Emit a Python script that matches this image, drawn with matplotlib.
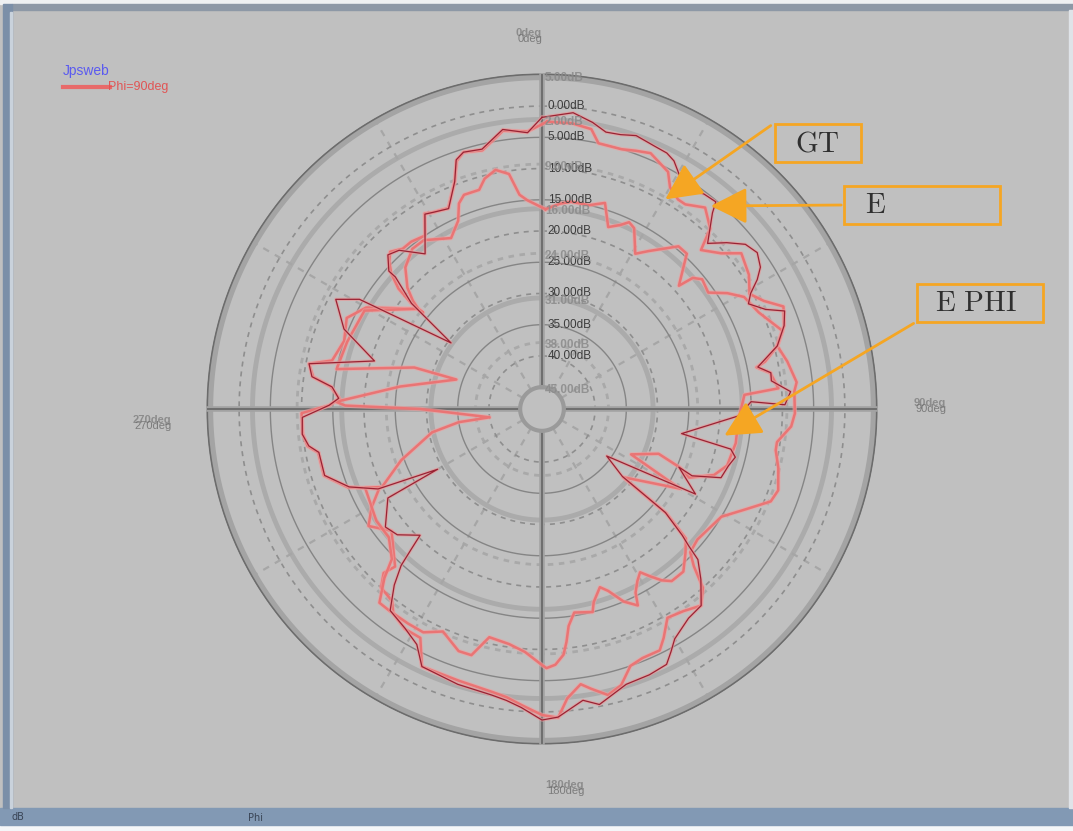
import numpy as np
import matplotlib.pyplot as plt
from matplotlib.patches import Rectangle, FancyArrowPatch

plt.rcParams['mathtext.fontset'] = 'cm'

# GT trace (outer, light red)
gt_deg = [1, 6, 10, 12, 17, 20, 23, 28, 30, 33, 35, 39, 43, 45, 49, 52, 57, 61, 64, 67, 71, 75, 79, 84, 86,
          91, 94, 98, 100, 104, 109, 112, 116, 121, 130, 134, 136, 138, 141, 145, 149, 152, 154, 158, 161,
          164, 167, 170, 172, 175, 177, 180, 184, 187, 190, 197, 205, 208, 212, 216, 218, 222, 224, 223, 231,
          236, 240, 244, 248, 253, 259, 261, 264, 269, 271, 273, 276, 278, 281, 283, 289, 295, 300, 309, 309,
          309, 310, 312, 314, 316, 319, 322, 326, 329, 331, 335, 339, 341, 343, 347, 352, 357]
gt_db = [-2.5, -2.5, -3, -5, -5, -4.5, -4, -5.5, -7.5, -8.5, -8.5, -7, -9, -12.5, -10.5, -8, -9, -10.5, -9,
         -6.5, -7.5, -9.5, -8.5, -7.5, -8, -8, -8.5, -10.5, -10.5, -9.5, -8.5, -9, -12, -15, -16, -15.5,
         -13.5, -10, -8, -9, -9.5, -7, -5.5, -5.5, -5, -2.5, -1.5, -3, -4, -2, 1, 0.5, -1, -2, -2.5, -3, -3,
         -7, -7, -8, -9.5, -10, -12, -14, -17.5, -15, -17, -19.5, -15, -12, -12, -10.5, -10, -10, -14.5, -16,
         -14.5, -11.5, -10.5, -14, -15, -14, -16, -23, -24, -21.5, -18.5, -16, -14.5, -13.5, -14.5, -14.5,
         -15, -12, -12.5, -13, -9.5, -6.5, -5.5, -6, -3.5, -4]

# E trace (inner, light red)
e_deg = [1, 5, 8, 13, 17, 20, 23, 25, 27, 31, 34, 40, 43, 45, 48, 49, 51, 55, 58, 61, 66, 72, 75, 78, 79,
         81, 85, 86, 93, 100, 107, 111, 115, 113, 111, 117, 120, 130, 130, 130, 132, 135, 139, 143, 145, 147,
         149, 151, 153, 154, 157, 160, 162, 165, 166, 171, 173, 174, 175, 177, 179, 180, 184, 188, 193, 196,
         199, 204, 208, 212, 217, 220, 223, 225, 230, 236, 246, 244, 250, 258, 261, 261, 270, 271, 272, 279,
         289, 288, 281, 289, 299, 309, 310, 312, 316, 321, 325, 332, 336, 338, 340, 344, 346, 349, 352, 354,
         356]
e_db = [-16.5, -15.5, -15, -15, -14, -17.5, -16.5, -15.5, -16, -19.5, -18, -14.5, -14.5, -16.5, -19, -16.5,
        -15.5, -16, -13.5, -11.5, -10.5, -8, -9.5, -12, -13.5, -11.5, -10.5, -16, -17, -17, -17.5, -19,
        -22.5, -24.5, -28.5, -32.5, -23, -31.5, -26, -22.5, -17.5, -16, -14, -14, -15, -16.5, -18, -17,
        -15.5, -13.5, -15, -17.5, -18.5, -16.5, -15, -15.5, -13.5, -11, -9, -7.5, -7, -7.5, -9.5, -10.5,
        -11, -7.5, -7.5, -9.5, -8, -8, -8, -8, -11.5, -14.5, -16.5, -16.5, -17.5, -20, -24.5, -30.5, -35,
        -40, -29, -17, -15.5, -25.5, -34, -27, -15, -15.5, -16, -23, -21.5, -19.5, -17, -15.5, -15.5, -17.5,
        -15.5, -13, -12, -12, -10.5, -9.5, -10.5, -14, -15]

# E PHI trace (thin, dark red)
ephi_deg = [0, 6, 10, 13, 16, 19, 23, 26, 28, 31, 34, 37, 40, 41, 45, 48, 51, 54, 57, 59, 61, 63, 66, 68, 71,
            75, 79, 81, 83, 86, 89, 88, 92, 100, 102, 104, 107, 111, 114, 113, 119, 126, 130, 130, 130, 132,
            133, 134, 137, 141, 145, 150, 152, 154, 158, 163, 169, 172, 177, 180, 184, 187, 190, 197, 205,
            208, 212, 217, 220, 222, 223, 224, 229, 233, 240, 240, 244, 248, 253, 259, 261, 264, 268, 271,
            273, 276, 278, 281, 286, 292, 298, 301, 306, 309, 312, 312, 315, 318, 323, 329, 331, 335, 339,
            341, 343, 347, 352, 357]
ephi_db = [-1.8, -0.8, -1.9, -3.0, -2.8, -2.2, -2.7, -2.9, -3.5, -5.4, -6.1, -5.4, -5.2, -6.9, -11.0, -8.7,
           -6.6, -5.9, -6.8, -8.3, -10.3, -11.4, -9.3, -6.6, -7.5, -9.5, -13.3, -11.4, -11.5, -8.6, -9.6,
           -15.0, -17.0, -25.8, -17.6, -16.6, -17.3, -17.8, -22.2, -24.7, -20.4, -35.7, -31.7, -26.1, -22.7,
           -18.3, -16.4, -13.8, -11.2, -8.0, -7.6, -6.0, -4.5, -3.0, -2.6, -2.4, -0.3, -1.4, 0.9, 1.3, -0.6,
           -1.5, -2.0, -2.4, -3.0, -5.8, -7.1, -8.1, -11.7, -14.8, -17.8, -20.4, -17.8, -17.1, -20.0, -29.2,
           -19.3, -15.2, -12.1, -12.1, -10.7, -9.9, -10.1, -14.4, -15.9, -14.7, -11.3, -10.5, -20.6, -14.3,
           -11.1, -14.4, -30.5, -21.6, -16.9, -15.5, -13.6, -14.3, -17.4, -12.1, -12.5, -13.1, -9.5, -6.3,
           -5.5, -5.8, -3.3, -4.2]

ring_db = [0, -5, -10, -15, -20, -25, -30, -35, -40]
angle_labels = ["0deg", "90deg", "180deg", "270deg"]
callouts = ["GT", "E", "E PHI"]

W, H = 1073, 831
cx, cy = 542, 409


def fx(px):
    return px / W


def fy(py):
    return 1 - py / H


fig = plt.figure(figsize=(10.73, 8.31), dpi=100)
fig.patch.set_facecolor('#c0c0c0')
# window frame
fig.add_artist(Rectangle((0, 0), 1, fy(825), transform=fig.transFigure, color='#f4f6f8'))
fig.add_artist(Rectangle((0, fy(825)), 1, fy(808) - fy(825), transform=fig.transFigure, color='#8299b4'))
fig.add_artist(Rectangle((0, fy(4)), 1, 1 - fy(4), transform=fig.transFigure, color='#eef0f2'))
fig.add_artist(Rectangle((fx(12), fy(10)), 1, fy(4) - fy(10), transform=fig.transFigure, color='#8d98a6'))
fig.add_artist(Rectangle((fx(3), fy(808)), fx(12) - fx(3), fy(4) - fy(808), transform=fig.transFigure,
                         color='#7b8fa8'))
fig.add_artist(Rectangle((fx(10), fy(808)), fx(2), fy(12) - fy(808), transform=fig.transFigure, color='#c9d2dc'))
fig.add_artist(Rectangle((fx(1069), fy(808)), 1, fy(10) - fy(808), transform=fig.transFigure, color='#dfe3e8'))

ax = fig.add_axes([fx(cx - 336), fy(cy + 336), 672 / W, 672 / H], projection='polar')
ax.set_facecolor('none')
ax.set_theta_zero_location('N')
ax.set_theta_direction(-1)
ax.set_rlim(-48.5, 5.3)
ax.grid(False)
ax.set_xticks([])
ax.set_yticks([])
ax.spines['polar'].set_visible(False)

full = np.linspace(0, 2 * np.pi, 721)
# second (light) grid
for k in range(1, 7):
    v = 5 - k * 50 / 7
    if k % 2:
        ax.plot(full, np.full_like(full, v), color='#ababab', lw=3.5, zorder=1)
    else:
        ax.plot(full, np.full_like(full, v), color='#a9a9a9', lw=2, ls=(0, (2, 2)), zorder=1)
# 5 dB grid
for v in ring_db:
    if v % 10:
        ax.plot(full, np.full_like(full, v), color='#858585', lw=1, zorder=2)
    else:
        ax.plot(full, np.full_like(full, v), color='#8e8e8e', lw=1.2, ls=(0, (3, 3)), zorder=2)
for a in range(30, 360, 30):
    if a % 90:
        ax.plot([np.radians(a)] * 2, [-45, 5], color='#a6a6a6', lw=1.6, ls=(0, (3, 3)), zorder=1)
ax.plot(full, np.full_like(full, 4.6), color='#a4a4a4', lw=4, zorder=2)
ax.plot(full, np.full_like(full, 5.1), color='#6c6c6c', lw=1.2, zorder=2)
for a in [0, 90, 180, 270]:
    ax.plot([np.radians(a)] * 2, [-45, 5], color='#a2a2a2', lw=4, zorder=3)
    ax.plot([np.radians(a)] * 2, [-45, 5], color='#6e6e6e', lw=1.4, zorder=3)


def closed(deg, db):
    return np.radians(np.append(deg, deg[0])), np.append(db, db[0])


for deg, db in [(gt_deg, gt_db), (e_deg, e_db)]:
    t, r = closed(deg, db)
    ax.plot(t, r, color='#f0a0a0', lw=3.2, alpha=0.6, zorder=4)
    ax.plot(t, r, color='#ea7474', lw=1.8, zorder=4)
t, r = closed(ephi_deg, ephi_db)
ax.plot(t, r, color='#e49a9a', lw=2.4, alpha=0.7, zorder=4)
ax.plot(t, r, color='#9a2233', lw=0.9, zorder=5)

# centre hole
ax.fill_between(full, -48.5, -45, color='#c0c0c0', zorder=6)
ax.plot(full, np.full_like(full, -45), color='#9a9a9a', lw=3, zorder=6)

# radial labels
for v in ring_db:
    ax.annotate(f"{abs(v):.2f}dB", xy=(0, v), xytext=(4, 0), textcoords='offset points',
                ha='left', va='center', fontsize=8.5, family='Liberation Sans', color='#3c3c3c', zorder=8)
for k in range(8):
    v = 5 - k * 50 / 7
    ax.annotate(f"{abs(round(v)):.2f}dB", xy=(0, v), xytext=(2, -2), textcoords='offset points',
                ha='left', va='center', fontsize=8.5, family='Liberation Sans', weight='bold',
                color='#8a8a8a', alpha=0.85, zorder=9)

# angle labels
for txt, px, py in zip(angle_labels, [529, 930, 565, 152], [33, 403, 785, 420]):
    fig.text(fx(px), fy(py), txt, fontsize=8, family='Liberation Sans', weight='bold', color='#8c8c8c',
             ha='center', va='center')
    fig.text(fx(px + 1), fy(py + 6), txt, fontsize=8, family='Liberation Sans', color='#6a6a6a',
             ha='center', va='center', alpha=0.8)

# legend
fig.text(fx(63), fy(71), "Jpsweb", fontsize=10, family='Liberation Sans', color='#5a5af0', va='center')
fig.add_artist(plt.Line2D([fx(63), fx(110)], [fy(87), fy(87)], color='#e86a6a', lw=3))
fig.text(fx(108), fy(87), "Phi=90deg", fontsize=9, family='Liberation Sans', color='#e05555', va='center')

# status bar
fig.text(fx(12), fy(817), "dB", fontsize=7, color='#3a4556', va='center')
fig.text(fx(248), fy(818), "Phi", fontsize=7, color='#3a4556', va='center')

# callouts
orange = '#f5a623'
boxes = [(775, 124, 861, 162, 795), (844, 186, 1000, 224, 865), (917, 284, 1043, 322, 935)]
for txt, (x0, y0, x1, y1, tx) in zip(callouts, boxes):
    fig.add_artist(Rectangle((fx(x0), fy(y1)), fx(x1) - fx(x0), fy(y0) - fy(y1), transform=fig.transFigure,
                             fill=False, edgecolor=orange, lw=2))
    fig.text(fx(tx), fy((y0 + y1) / 2), r"$\mathrm{" + txt.replace(" ", r"\ ") + "}$", fontsize=21,
             color='#2f2f2f', ha='left', va='center')
for x0, y0, x1, y1 in [(773, 124, 663, 201), (844, 205, 708, 206), (916, 322, 722, 437)]:
    fig.add_artist(FancyArrowPatch((fx(x0), fy(y0)), (fx(x1), fy(y1)), transform=fig.transFigure,
                                   arrowstyle='-|>,head_length=1.6,head_width=0.8', mutation_scale=14,
                                   color=orange, lw=2))

fig.savefig("out.png", facecolor=fig.get_facecolor())
